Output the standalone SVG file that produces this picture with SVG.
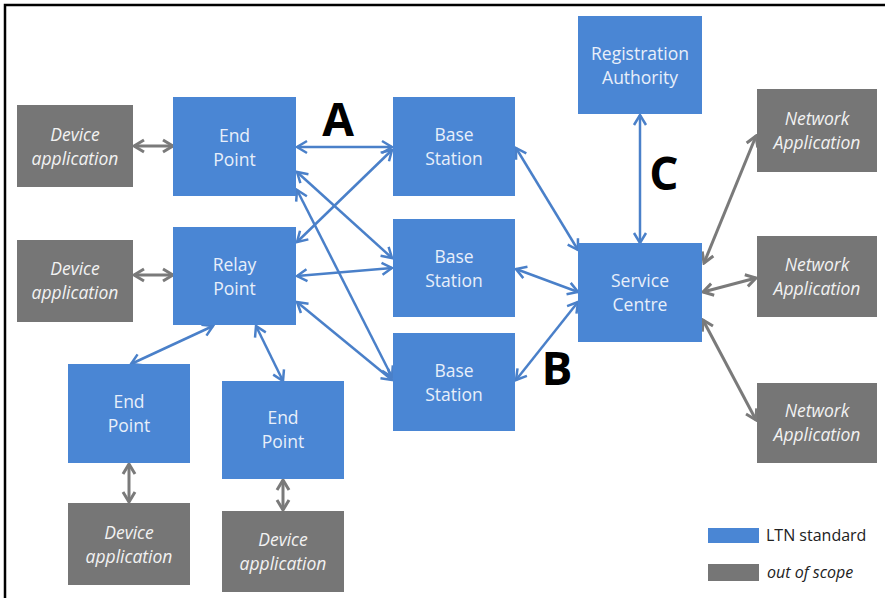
<svg xmlns="http://www.w3.org/2000/svg" width="885" height="598" viewBox="0 0 885 598">
  <defs>
    <style>
      .ltn { fill: #4a86d4; }
      .oos { fill: #767676; }
      .t-ltn { font-family: "Open Sans", "Noto Sans", "DejaVu Sans", sans-serif; font-size: 17.5px; fill: #e8effa; text-anchor: middle; }
      .t-oos { font-family: "Open Sans", "Noto Sans", "DejaVu Sans", sans-serif; font-size: 17.5px; font-style: italic; fill: #f2f2f2; text-anchor: middle; }
      .big { font-family: "Open Sans", "Noto Sans", "DejaVu Sans", sans-serif; font-size: 46px; font-weight: bold; fill: #000; text-anchor: middle; }
      .leg { font-family: "Open Sans", "Noto Sans", "DejaVu Sans", sans-serif; font-size: 16px; fill: #222; }
      .blue { stroke: #4a80c9; stroke-width: 2.5; fill: none; marker-start: url(#hb); marker-end: url(#hb); }
      .grey { stroke: #7a7a7a; stroke-width: 3; fill: none; marker-start: url(#hg); marker-end: url(#hg); }
    </style>
    <marker id="hb" viewBox="-12 -8 14 16" refX="0" refY="0" markerWidth="14" markerHeight="16" markerUnits="userSpaceOnUse" orient="auto-start-reverse">
      <path d="M-10,-6 L0,0 L-10,6" fill="none" stroke="#4a80c9" stroke-width="2.5"/>
    </marker>
    <marker id="hg" viewBox="-12 -8 14 16" refX="0" refY="0" markerWidth="14" markerHeight="16" markerUnits="userSpaceOnUse" orient="auto-start-reverse">
      <path d="M-10,-6 L0,0 L-10,6" fill="none" stroke="#7a7a7a" stroke-width="3"/>
    </marker>
  </defs>

  <rect x="0" y="0" width="885" height="598" fill="#fff"/>
  <!-- frame -->
  <path d="M5,600 L5,5 L890,5" fill="none" stroke="#000" stroke-width="2.5"/>

  <!-- connectors -->
  <g id="connectors">
    <line class="blue" x1="297" y1="147" x2="392" y2="147"/>
    <line class="blue" x1="297" y1="172" x2="392" y2="258"/>
    <line class="blue" x1="297" y1="190" x2="392" y2="377"/>
    <line class="blue" x1="297" y1="242" x2="392" y2="150"/>
    <line class="blue" x1="297" y1="276" x2="392" y2="268"/>
    <line class="blue" x1="297" y1="302" x2="392" y2="380"/>
    <line class="blue" x1="516" y1="148" x2="578" y2="250"/>
    <line class="blue" x1="516" y1="269" x2="578" y2="292"/>
    <line class="blue" x1="516" y1="380" x2="578" y2="302"/>
    <line class="blue" x1="640" y1="115" x2="640" y2="243"/>
    <line class="blue" x1="213" y1="326" x2="131" y2="364"/>
    <line class="blue" x1="256" y1="326" x2="283" y2="381"/>

    <line class="grey" x1="134" y1="146" x2="173" y2="146"/>
    <line class="grey" x1="134" y1="275" x2="173" y2="275"/>
    <line class="grey" x1="129" y1="464" x2="129" y2="502"/>
    <line class="grey" x1="283" y1="480" x2="283" y2="510"/>
    <line class="grey" x1="704" y1="263" x2="756" y2="136"/>
    <line class="grey" x1="703" y1="292" x2="756" y2="278"/>
    <line class="grey" x1="703" y1="320" x2="756" y2="420"/>
  </g>

  <!-- device applications -->
  <g id="device-app-1">
    <rect class="oos" x="17" y="105" width="116" height="82"/>
    <text class="t-oos" x="75" y="141">Device</text>
    <text class="t-oos" x="75" y="165">application</text>
  </g>
  <g id="device-app-2">
    <rect class="oos" x="17" y="240" width="116" height="82"/>
    <text class="t-oos" x="75" y="275">Device</text>
    <text class="t-oos" x="75" y="299">application</text>
  </g>
  <g id="device-app-3">
    <rect class="oos" x="68" y="503" width="122" height="82"/>
    <text class="t-oos" x="129" y="539">Device</text>
    <text class="t-oos" x="129" y="563">application</text>
  </g>
  <g id="device-app-4">
    <rect class="oos" x="222" y="511" width="122" height="81"/>
    <text class="t-oos" x="283" y="546">Device</text>
    <text class="t-oos" x="283" y="570">application</text>
  </g>

  <!-- end points and relay -->
  <g id="end-point-1">
    <rect class="ltn" x="173" y="97" width="123" height="99"/>
    <text class="t-ltn" x="234.5" y="142">End</text>
    <text class="t-ltn" x="234.5" y="166">Point</text>
  </g>
  <g id="relay-point">
    <rect class="ltn" x="173" y="227" width="123" height="98"/>
    <text class="t-ltn" x="234.5" y="271">Relay</text>
    <text class="t-ltn" x="234.5" y="295">Point</text>
  </g>
  <g id="end-point-2">
    <rect class="ltn" x="68" y="364" width="122" height="99"/>
    <text class="t-ltn" x="129" y="408">End</text>
    <text class="t-ltn" x="129" y="432">Point</text>
  </g>
  <g id="end-point-3">
    <rect class="ltn" x="222" y="381" width="122" height="98"/>
    <text class="t-ltn" x="283" y="424">End</text>
    <text class="t-ltn" x="283" y="448">Point</text>
  </g>

  <!-- base stations -->
  <g id="base-station-1">
    <rect class="ltn" x="393" y="97" width="122" height="99"/>
    <text class="t-ltn" x="454" y="141">Base</text>
    <text class="t-ltn" x="454" y="165">Station</text>
  </g>
  <g id="base-station-2">
    <rect class="ltn" x="393" y="219" width="122" height="98"/>
    <text class="t-ltn" x="454" y="263">Base</text>
    <text class="t-ltn" x="454" y="287">Station</text>
  </g>
  <g id="base-station-3">
    <rect class="ltn" x="393" y="333" width="122" height="98"/>
    <text class="t-ltn" x="454" y="377">Base</text>
    <text class="t-ltn" x="454" y="401">Station</text>
  </g>

  <!-- core -->
  <g id="registration-authority">
    <rect class="ltn" x="578" y="16" width="124" height="98"/>
    <text class="t-ltn" x="640" y="60">Registration</text>
    <text class="t-ltn" x="640" y="84">Authority</text>
  </g>
  <g id="service-centre">
    <rect class="ltn" x="578" y="243" width="124" height="99"/>
    <text class="t-ltn" x="640" y="287">Service</text>
    <text class="t-ltn" x="640" y="311">Centre</text>
  </g>

  <!-- network applications -->
  <g id="network-app-1">
    <rect class="oos" x="757" y="89" width="120" height="83"/>
    <text class="t-oos" x="817" y="125">Network</text>
    <text class="t-oos" x="817" y="149">Application</text>
  </g>
  <g id="network-app-2">
    <rect class="oos" x="757" y="236" width="120" height="81"/>
    <text class="t-oos" x="817" y="271">Network</text>
    <text class="t-oos" x="817" y="295">Application</text>
  </g>
  <g id="network-app-3">
    <rect class="oos" x="757" y="383" width="120" height="80"/>
    <text class="t-oos" x="817" y="417">Network</text>
    <text class="t-oos" x="817" y="441">Application</text>
  </g>

  <!-- interface labels -->
  <text class="big" x="338" y="136">A</text>
  <text class="big" x="557" y="385">B</text>
  <text class="big" x="664" y="190">C</text>

  <!-- legend -->
  <g id="legend">
    <rect class="ltn" x="708" y="528" width="51" height="15"/>
    <text class="leg" x="766" y="541">LTN standard</text>
    <rect class="oos" x="708" y="564" width="51" height="17"/>
    <text class="leg" x="767" y="578" font-style="italic">out of scope</text>
  </g>
</svg>
